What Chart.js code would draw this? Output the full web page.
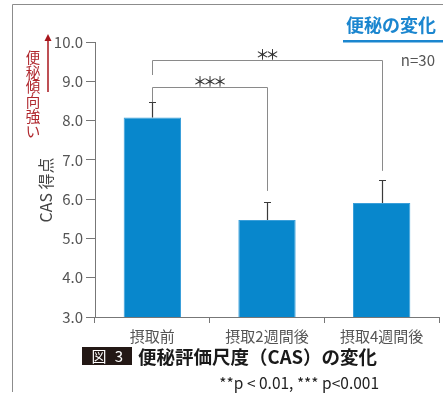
<!DOCTYPE html>
<html lang="ja">
<head>
<meta charset="UTF-8">
<title>便秘の変化</title>
<script src="https://cdn.jsdelivr.net/npm/chart.js@4/dist/chart.umd.min.js"></script>
<style>
  body { margin: 0; background: #fff; }
  canvas { display: block; }
</style>
</head>
<body>
<canvas id="chart" width="443" height="401"></canvas>

<script>
    // CAS 得点（平均値 ± SD）
    const categories = ['摂取前', '摂取2週間後', '摂取4週間後'];
    const means = [8.08, 5.47, 5.90];
    const sds = [0.39, 0.46, 0.59];
    const yTicks = [3, 4, 5, 6, 7, 8, 9, 10];

    // 有意差の括弧: from/to はカテゴリ番号, level は横線の高さ, ends は両端の下限
    const brackets = [
        { from: 0, to: 1, level: 8.86, ends: [8.47, 6.21], label: '＊＊＊' },
        { from: 0, to: 2, level: 9.54, ends: [9.16, 6.72], label: '＊＊' }
    ];

    const JP = "'Noto Sans CJK JP', 'Noto Sans', sans-serif";
    Chart.defaults.font.family = JP;

    const annotate = {
        id: 'annotate',
        afterDatasetsDraw(chart) {
            const { ctx, scales: { x, y } } = chart;
            ctx.save();

            // エラーバー
            ctx.strokeStyle = '#3a3a3a';
            ctx.lineWidth = 1.2;
            means.forEach((m, i) => {
                const px = Math.round(x.getPixelForValue(i)) + 0.5;
                const top = Math.round(y.getPixelForValue(m + sds[i])) + 0.5;
                const base = y.getPixelForValue(m);
                ctx.beginPath();
                ctx.moveTo(px, base);
                ctx.lineTo(px, top);
                ctx.moveTo(px - 3.5, top);
                ctx.lineTo(px + 3.5, top);
                ctx.stroke();
            });

            // 有意差の括弧
            ctx.strokeStyle = '#8a8a8a';
            ctx.lineWidth = 1;
            ctx.fillStyle = '#333';
            ctx.font = '500 14px ' + JP;
            ctx.textAlign = 'center';
            ctx.textBaseline = 'alphabetic';
            brackets.forEach(b => {
                const x1 = Math.round(x.getPixelForValue(b.from)) + 0.5;
                const x2 = Math.round(x.getPixelForValue(b.to)) + 0.5;
                const yl = Math.round(y.getPixelForValue(b.level)) + 0.5;
                ctx.beginPath();
                ctx.moveTo(x1, y.getPixelForValue(b.ends[0]));
                ctx.lineTo(x1, yl);
                ctx.lineTo(x2, yl);
                ctx.lineTo(x2, y.getPixelForValue(b.ends[1]));
                ctx.stroke();
                // 星印は詰めて並べる
                const chars = b.label.split('');
                const step = 10;
                const start = (x1 + x2) / 2 - (chars.length - 1) * step / 2;
                chars.forEach((c, i) => ctx.fillText(c, start + i * step, yl - 2));
            });
            ctx.restore();
        },
        afterDraw(chart) {
            const { ctx } = chart;
            ctx.save();

            // 外枠
            ctx.strokeStyle = '#8c8c8c';
            ctx.lineWidth = 1;
            ctx.beginPath();
            ctx.moveTo(443, 4.5);
            ctx.lineTo(12.5, 4.5);
            ctx.lineTo(12.5, 392);
            ctx.stroke();

            // 見出し
            ctx.fillStyle = '#1b86cf';
            ctx.font = 'bold 18px ' + JP;
            ctx.textAlign = 'right';
            ctx.textBaseline = 'alphabetic';
            ctx.fillText('便秘の変化', 436, 32);
            ctx.fillRect(343, 40, 100, 2.5);

            ctx.fillStyle = '#555';
            ctx.font = '15px ' + JP;
            ctx.textBaseline = 'middle';
            ctx.fillText('n=30', 435, 60);

            // 縦書きの補足と矢印
            ctx.fillStyle = '#b0282e';
            ctx.font = '14.5px ' + JP;
            ctx.textAlign = 'center';
            '便秘傾向強い'.split('').forEach((c, i) => {
                ctx.fillText(c, 33, 57.5 + i * 14.7);
            });
            ctx.strokeStyle = '#a8161c';
            ctx.fillStyle = '#a8161c';
            ctx.lineWidth = 1.5;
            ctx.beginPath();
            ctx.moveTo(48, 92);
            ctx.lineTo(48, 40);
            ctx.stroke();
            ctx.beginPath();
            ctx.moveTo(48, 34);
            ctx.lineTo(44.5, 41);
            ctx.lineTo(51.5, 41);
            ctx.closePath();
            ctx.fill();

            // 縦軸タイトル
            ctx.save();
            ctx.translate(46, 190);
            ctx.rotate(-Math.PI / 2);
            ctx.fillStyle = '#444';
            ctx.font = '16px ' + JP;
            ctx.textAlign = 'center';
            ctx.textBaseline = 'middle';
            ctx.fillText('CAS 得点', 0, 0);
            ctx.restore();

            // 図番号とタイトル
            ctx.fillStyle = '#231815';
            ctx.fillRect(82, 347, 50, 18);
            ctx.fillStyle = '#fff';
            ctx.font = '15px ' + JP;
            ctx.textAlign = 'center';
            ctx.textBaseline = 'middle';
            ctx.fillText('図', 99, 356.5);
            ctx.fillText('3', 119, 356.5);

            ctx.fillStyle = '#1a1a1a';
            ctx.font = 'bold 18.5px ' + JP;
            ctx.textAlign = 'left';
            ctx.fillText('便秘評価尺度（CAS）の変化', 138, 356.5);

            ctx.fillStyle = '#222';
            ctx.font = '15.5px ' + JP;
            ctx.textAlign = 'right';
            ctx.fillText('**p < 0.01, *** p<0.001', 379, 383);

            ctx.restore();
        }
    };

    const ctx = document.getElementById('chart');
    const chart = new Chart(ctx, {
        type: 'bar',
        data: {
            labels: categories,
            datasets: [{
                data: means,
                backgroundColor: '#0887cc',
                borderColor: '#3a9fda',
                borderWidth: 1,
                barPercentage: 0.5,
                categoryPercentage: 1
            }]
        },
        options: {
            responsive: false,
            animation: false,
            devicePixelRatio: 1,
            layout: { padding: { left: 0, right: 4, top: 42, bottom: 54 } },
            plugins: {
                legend: { display: false },
                tooltip: { enabled: false }
            },
            scales: {
                x: {
                    offset: true,
                    grid: { offset: true, drawOnChartArea: false, tickLength: 6, color: '#777' },
                    border: { color: '#777' },
                    ticks: { color: '#555', font: { size: 15 }, padding: 4 },
                    afterFit(s) { s.height = 30; }
                },
                y: {
                    min: 3,
                    max: 10,
                    afterBuildTicks(s) { s.ticks = yTicks.map(v => ({ value: v })); },
                    ticks: {
                        color: '#555',
                        font: { size: 15 },
                        padding: 3,
                        callback: v => Number(v).toFixed(1)
                    },
                    grid: { drawOnChartArea: false, tickLength: 9, color: '#777' },
                    border: { color: '#777' },
                    afterFit(s) { s.width = 95; }
                }
            }
        },
        plugins: [annotate]
    });
</script>
</body>
</html>
